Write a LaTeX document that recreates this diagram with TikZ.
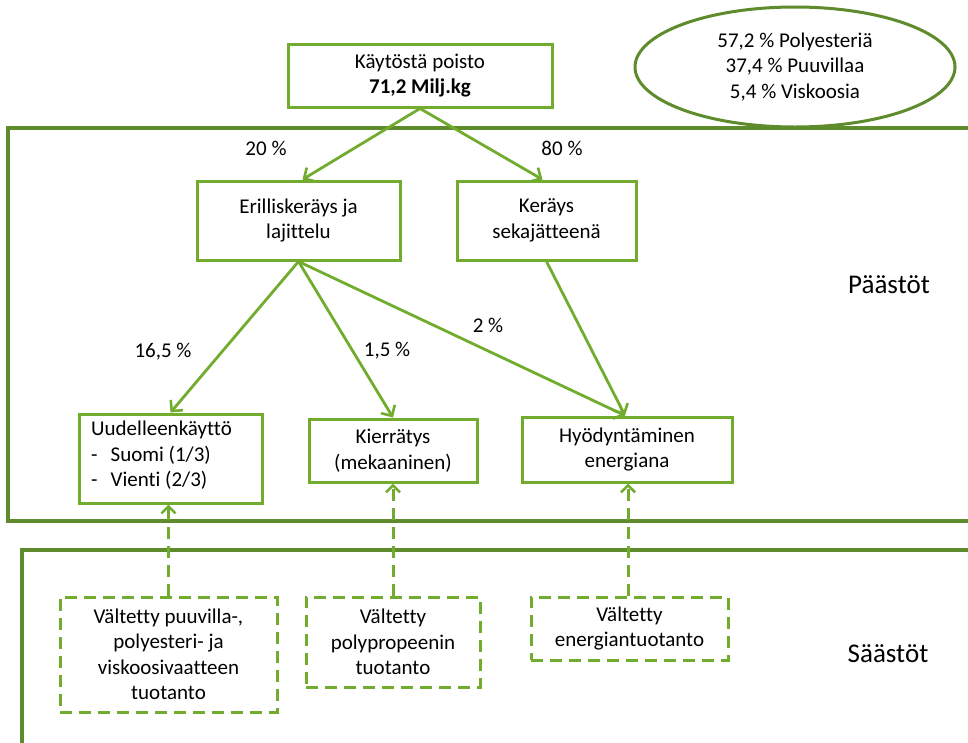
\documentclass[tikz,border=0pt]{standalone}
\usepackage{fontspec}
\setmainfont{Carlito}[Ligatures=NoCommon]
\usetikzlibrary{arrows.meta,shapes.geometric,calc}
\definecolor{boxgreen}{HTML}{72AC2E}
\definecolor{framegreen}{HTML}{5E8B2C}
\tikzset{
  every node/.style={font=\fontsize{21}{25.5}\selectfont, text=black},
  box/.style={draw=boxgreen, line width=3pt, fill=white, align=center, inner sep=0pt},
  dbox/.style={draw=boxgreen, line width=3pt, dash pattern=on 12pt off 7pt, align=center, inner sep=0pt},
  flow/.style={draw=boxgreen, line width=2.8pt, -{Straight Barb[length=8pt,width=16pt,line width=2.6pt]}},
  dflow/.style={draw=boxgreen, line width=3pt, dash pattern=on 12pt off 7pt, -{Straight Barb[length=7pt,width=14pt,line width=2.6pt]}},
  frame/.style={draw=framegreen, line width=3.5pt},
  pct/.style={font=\fontsize{21}{25}\selectfont},
  side/.style={font=\fontsize{27}{30}\selectfont}
}
\begin{document}
\begin{tikzpicture}[x=1pt,y=-1pt]
\useasboundingbox (0,0) rectangle (968,742);
\clip (0,0) rectangle (968,742);
% frames
\draw[frame] (990,128) -- (8,128) -- (8,521) -- (990,521);
\draw[frame] (990,550) -- (22,550) -- (22,760);
% top box
\node[box, minimum width=264, minimum height=63] (top) at (420,75.5) {Käytöstä poisto\\\textbf{71,2 Milj.kg}};
% ellipse
\node[ellipse, draw=framegreen, line width=3pt, minimum width=320, minimum height=120, align=center, inner sep=0pt] (mix) at (795,67) {57,2 \% Polyesteriä\\37,4 \% Puuvillaa\\5,4 \% Viskoosia};
% second level
\node[box, minimum width=203, minimum height=79] (er) at (298.5,220.5) {Erilliskeräys ja\\lajittelu};
\node[box, minimum width=179, minimum height=79] (ke) at (546.5,220.5) {Keräys\\sekajätteenä};
% third level
\node[box, minimum width=183, minimum height=89] (uu) at (170.5,458.5) {};
\node[anchor=north west, align=left, inner sep=0pt] (uut) at (91,421) {Uudelleenkäyttö\\-\hspace{13pt}Suomi (1/3)\\-\hspace{13pt}Vienti (2/3)};
\node[box, minimum width=168, minimum height=63] (ki) at (393,450.5) {Kierrätys\\(mekaaninen)};
\node[box, minimum width=210, minimum height=65] (hy) at (627,449.5) {Hyödyntäminen\\energiana};
% dashed boxes
\node[dbox, minimum width=217, minimum height=115] (d1) at (168.5,654.5) {Vältetty puuvilla-,\\polyesteri- ja\\viskoosivaatteen\\tuotanto};
\node[dbox, minimum width=174, minimum height=90] (d2) at (393,642) {Vältetty\\polypropeenin\\tuotanto};
\node[dbox, minimum width=197, minimum height=63] (d3) at (629.5,628.5) {Vältetty\\energiantuotanto};
% solid arrows
\draw[flow] (top.south) -- ($(er.north)+(4,0)$);
\draw[flow] (top.south) -- ($(ke.north)+(-4,0)$);
\draw[flow] (er.south) -- (uu.north);
\draw[flow] (er.south) -- (ki.north);
\draw[flow] (er.south) -- ($(hy.north)+(-2,0)$);
\draw[flow] (ke.south) -- ($(hy.north)+(-2,0)$);
% dashed arrows
\draw[dflow] (d1.north) -- (d1.north |- uu.south);
\draw[dflow] (d2.north) -- (d2.north |- ki.south);
\draw[dflow] ($(d3.north)+(-1.5,0)$) -- ($(d3.north |- hy.south)+(-1.5,0)$);
% labels
\node[pct] (p20) at (266,148) {20 \%};
\node[pct] (p80) at (562,148) {80 \%};
\node[pct] (p165) at (163,352) {16,5 \%};
\node[pct] (p15) at (387,351) {1,5 \%};
\node[pct] (p2) at (488,325) {2 \%};
\node[side] (pa) at (889,285) {Päästöt};
\node[side] (sa) at (888,654) {Säästöt};
\end{tikzpicture}
\end{document}
